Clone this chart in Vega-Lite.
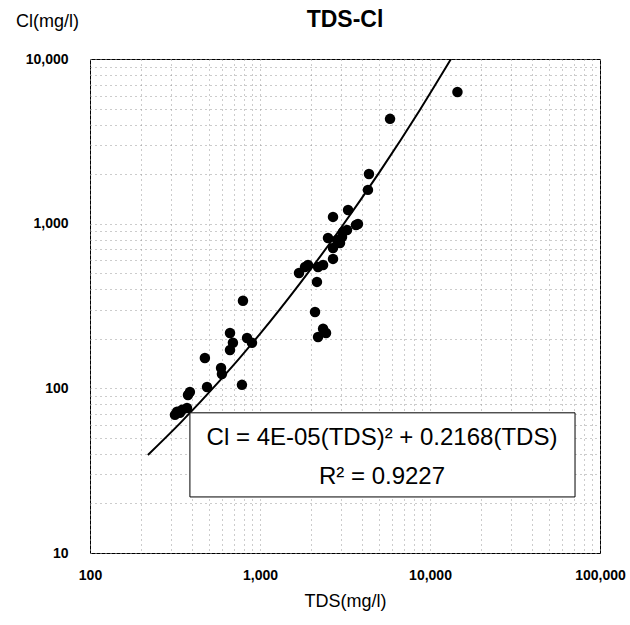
{
  "$schema": "https://vega.github.io/schema/vega-lite/v6.json",
  "autosize": "none",
  "width": 510,
  "height": 494,
  "padding": {"left": 90, "top": 59, "right": 30, "bottom": 72},
  "background": "white",
  "config": {
    "font": "Liberation Sans",
    "view": {"stroke": "#000", "strokeWidth": 1}
  },
  "title": {"text": "TDS-Cl", "fontSize": 23, "fontWeight": "bold", "font": "Liberation Sans", "offset": -43, "anchor": "middle", "frame": "group", "baseline": "bottom", "color": "#000"},
  "datasets": {
    "pts": [
      {"TDS": 14500, "Cl": 6310}, {"TDS": 5820, "Cl": 4330}, {"TDS": 4375, "Cl": 2005}, {"TDS": 4315, "Cl": 1604},
      {"TDS": 3296, "Cl": 1211}, {"TDS": 2688, "Cl": 1099}, {"TDS": 3770, "Cl": 996}, {"TDS": 3670, "Cl": 982},
      {"TDS": 3250, "Cl": 916}, {"TDS": 3080, "Cl": 891}, {"TDS": 2512, "Cl": 818}, {"TDS": 3036, "Cl": 830},
      {"TDS": 2955, "Cl": 764}, {"TDS": 2840, "Cl": 796}, {"TDS": 2688, "Cl": 711}, {"TDS": 2688, "Cl": 611},
      {"TDS": 2350, "Cl": 561}, {"TDS": 2195, "Cl": 546}, {"TDS": 1916, "Cl": 561}, {"TDS": 1840, "Cl": 546},
      {"TDS": 1696, "Cl": 502}, {"TDS": 2163, "Cl": 443}, {"TDS": 2107, "Cl": 291}, {"TDS": 2350, "Cl": 230},
      {"TDS": 2446, "Cl": 217}, {"TDS": 2195, "Cl": 205},
      {"TDS": 794, "Cl": 340}, {"TDS": 666, "Cl": 217}, {"TDS": 693, "Cl": 189}, {"TDS": 666, "Cl": 171},
      {"TDS": 839, "Cl": 202}, {"TDS": 897, "Cl": 189}, {"TDS": 474, "Cl": 153}, {"TDS": 590, "Cl": 133},
      {"TDS": 597, "Cl": 122}, {"TDS": 488, "Cl": 102}, {"TDS": 783, "Cl": 105}, {"TDS": 387, "Cl": 95},
      {"TDS": 377, "Cl": 91}, {"TDS": 372, "Cl": 76}, {"TDS": 325, "Cl": 72}, {"TDS": 338, "Cl": 71},
      {"TDS": 316, "Cl": 69}, {"TDS": 348, "Cl": 74}
    ],
    "fit": [
      {"TDS": 219, "Cl": 39.4}, {"TDS": 338, "Cl": 61.3}, {"TDS": 582, "Cl": 111.7}, {"TDS": 1000, "Cl": 214},
      {"TDS": 1719, "Cl": 434}, {"TDS": 2955, "Cl": 925}, {"TDS": 5080, "Cl": 2077}, {"TDS": 8735, "Cl": 4922},
      {"TDS": 13290, "Cl": 10000}
    ],
    "box": [{"TDS": 387, "TDS2": 71300, "Cl": 71, "Cl2": 21.9}],
    "eq": [
      {"TDS": 5220, "Cl": 50, "label": "Cl = 4E-05(TDS)² + 0.2168(TDS)"},
      {"TDS": 5220, "Cl": 29, "label": "R² = 0.9227"}
    ]
  },
  "encoding": {
    "x": {
      "field": "TDS", "type": "quantitative",
      "scale": {"type": "log", "domain": [100, 100000], "nice": false},
      "axis": {
        "title": "TDS(mg/l)", "titleFontSize": 18, "titleFontWeight": "normal", "titleColor": "#000", "titlePadding": 10,
        "values": [100,200,300,400,500,600,700,800,900,1000,2000,3000,4000,5000,6000,7000,8000,9000,10000,20000,30000,40000,50000,60000,70000,80000,90000,100000],
        "labelExpr": "indexof([100,1000,10000,100000], datum.value) >= 0 ? format(datum.value, ',') : ''",
        "labelFontSize": 14, "labelFontWeight": "bold", "labelColor": "#000", "labelPadding": 15, "labelFlush": false, "labelOverlap": false,
        "ticks": false, "tickSize": 0, "domain": false,
        "grid": true, "gridDash": [1, 4], "gridColor": "#999", "gridWidth": 1
      }
    },
    "y": {
      "field": "Cl", "type": "quantitative",
      "scale": {"type": "log", "domain": [10, 10000], "nice": false},
      "axis": {
        "title": "Cl(mg/l)", "titleAngle": 0, "titleFontSize": 18, "titleFontWeight": "normal", "titleColor": "#000",
        "titleAlign": "center", "titleBaseline": "middle", "titleX": -43, "titleY": -38,
        "values": [10,20,30,40,50,60,70,80,90,100,200,300,400,500,600,700,800,900,1000,2000,3000,4000,5000,6000,7000,8000,9000,10000],
        "labelExpr": "indexof([10,100,1000,10000], datum.value) >= 0 ? format(datum.value, ',') : ''",
        "labelFontSize": 14, "labelFontWeight": "bold", "labelColor": "#000", "labelPadding": 22, "labelFlush": false, "labelOverlap": false,
        "ticks": false, "tickSize": 0, "domain": false,
        "grid": true, "gridDash": [1, 4], "gridColor": "#999", "gridWidth": 1
      }
    }
  },
  "layer": [
    {
      "data": {"name": "fit"},
      "mark": {"type": "line", "color": "#000", "strokeWidth": 2, "interpolate": "monotone", "clip": true}
    },
    {
      "data": {"name": "pts"},
      "mark": {"type": "circle", "color": "#000", "opacity": 1, "size": 110}
    },
    {
      "data": {"name": "box"},
      "mark": {"type": "rect", "fill": "#fff", "stroke": "#000", "strokeWidth": 1},
      "encoding": {"x2": {"field": "TDS2"}, "y2": {"field": "Cl2"}}
    },
    {
      "data": {"name": "eq"},
      "mark": {"type": "text", "fontSize": 24, "color": "#000", "align": "center", "baseline": "middle", "font": "Liberation Sans"},
      "encoding": {"text": {"field": "label"}}
    }
  ]
}
